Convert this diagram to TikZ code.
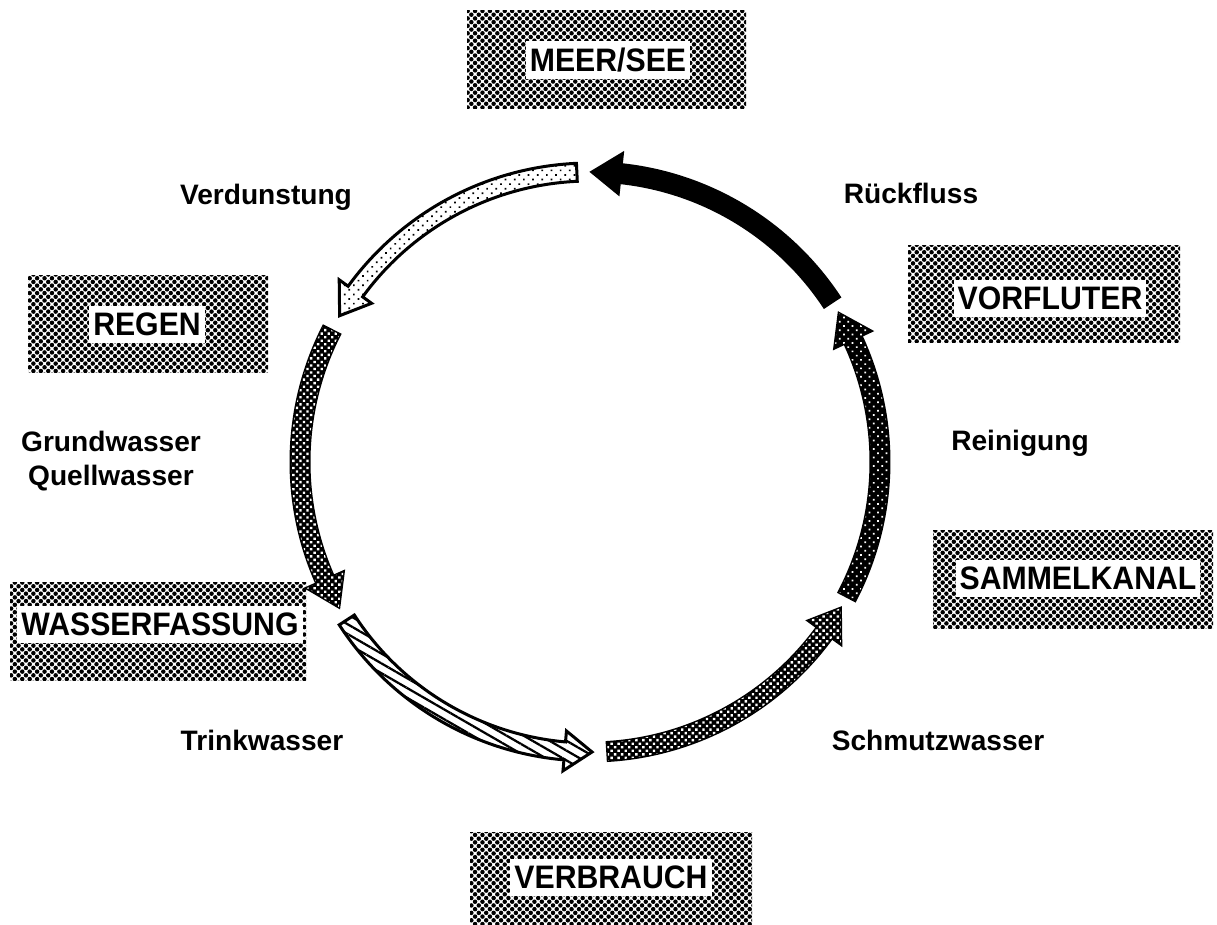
\documentclass[tikz,border=0pt]{standalone}
\usepackage{fontspec}
\setmainfont{Liberation Sans}
\newfontfamily\boxfont[FakeStretch=0.93]{Liberation Sans}
\usetikzlibrary{patterns.meta,calc}
\begin{document}
\begin{tikzpicture}[x=0.02cm,y=0.02cm,
  halftone/.style={pattern={Dots[distance=0.105cm,radius=0.045cm,angle=45]},pattern color=black},
  boxtext/.style={fill=white,inner xsep=0.08cm,inner ysep=0.14cm,font=\boxfont\fontsize{18.5}{21}\selectfont\bfseries},
  lab/.style={font=\fontsize{16}{19}\selectfont\bfseries,align=center,inner sep=0pt},
  arrowline/.style={draw=black,line width=0.06cm,line join=miter},
  evap/.style={arrowline,fill=white,postaction={pattern={Dots[distance=0.13cm,radius=0.024cm,angle=45]},pattern color=black}},
  solidarrow/.style={draw=black,fill=black,line width=0.06cm,line join=miter},
  ground/.style={arrowline,fill=black,postaction={pattern={Dots[distance=0.1cm,radius=0.033cm,angle=45]},pattern color=white}},
  drink/.style={arrowline,fill=white,postaction={pattern={Lines[angle=-30,distance=0.17cm,line width=0.045cm]},pattern color=black}},
  dirty/.style={arrowline,fill=black,postaction={pattern={Dots[distance=0.1cm,radius=0.034cm,angle=45]},pattern color=white}},
  clean/.style={arrowline,fill=black,postaction={pattern={Dots[distance=0.12cm,radius=0.024cm,angle=45]},pattern color=white}}
]
\useasboundingbox (0,0) rectangle (1217,-924);
\coordinate (C) at (590,-462);
\newcommand\cyclearrow[4]{%
  \path[#1] ($(C)+(#2:299)$) arc[start angle=#2,end angle=#3,radius=299]
    -- ($(C)+(#3:310)$) -- ($(C)+(#4:290)$) -- ($(C)+(#3:270)$)
    -- ($(C)+(#3:281)$) arc[start angle=#3,end angle=#2,radius=281] -- cycle;}

% boxes
\path[halftone] (467,-10) rectangle (746,-108);
\node[boxtext] (meer) at (608,-60) {MEER/SEE};
\path[halftone] (28,-275) rectangle (268,-372);
\node[boxtext] (regen) at (147,-324) {REGEN};
\path[halftone] (908,-245) rectangle (1180,-342);
\node[boxtext] (vorfluter) at (1050,-298) {VORFLUTER};
\path[halftone] (10,-582) rectangle (306,-680);
\node[boxtext] (fassung) at (160,-624) {WASSERFASSUNG};
\path[halftone] (933,-530) rectangle (1213,-628);
\node[boxtext] (kanal) at (1078,-578) {SAMMELKANAL};
\path[halftone] (470,-832) rectangle (752,-924);
\node[boxtext] (verbrauch) at (611,-877) {VERBRAUCH};

% labels
\node[lab] (l1) at (266,-197) {Verdunstung};
\node[lab] (l2) at (911,-193) {Rückfluss};
\node[lab] (l3) at (111,-461) {Grundwasser\\Quellwasser};
\node[lab] (l4) at (1020,-443) {Reinigung};
\node[lab] (l5) at (262,-740) {Trinkwasser};
\node[lab] (l6) at (938,-740) {Schmutzwasser};

% arrows
\cyclearrow{evap}{92.6}{144}{149.7}
\cyclearrow{solidarrow}{33.5}{84}{89.6}
\cyclearrow{ground}{153}{204}{210}
\cyclearrow{drink}{213}{265}{270.4}
\cyclearrow{dirty}{273.5}{324}{329.7}
\cyclearrow{clean}{332.4}{385}{390.8}
\end{tikzpicture}
\end{document}
